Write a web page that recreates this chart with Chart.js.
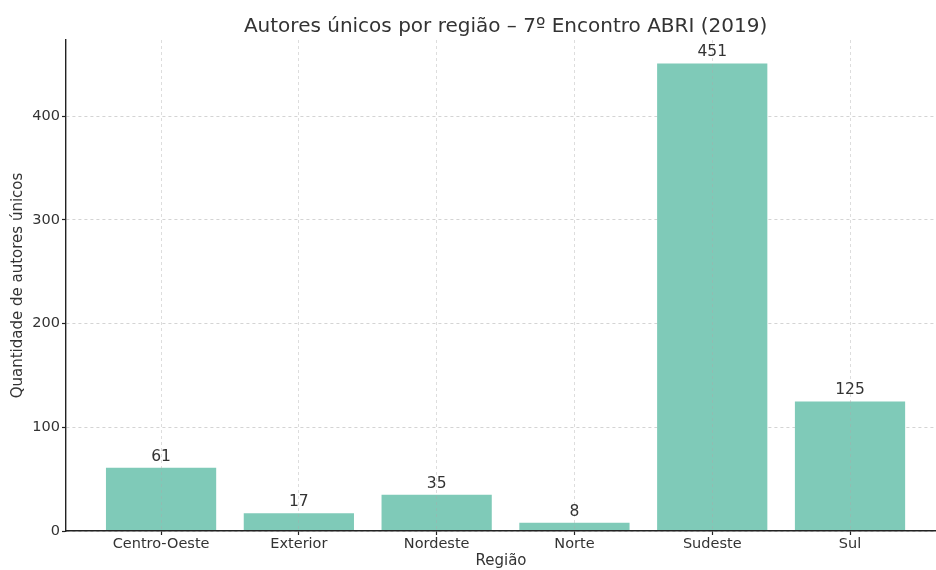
<!DOCTYPE html>
<html>
<head>
<meta charset="utf-8">
<script src="https://cdn.jsdelivr.net/npm/chart.js@4.4.1/dist/chart.umd.min.js"></script>
<style>
  html, body { margin: 0; padding: 0; background: #fff; overflow: hidden; }
  #wrap { width: 936px; height: 570px; }
</style>
</head>
<body>
<div id="wrap"><canvas id="regiaoChart" width="936" height="570"></canvas></div>
<script>
const regioes = ['Centro-Oeste', 'Exterior', 'Nordeste', 'Norte', 'Sudeste', 'Sul'];
const autores = [61, 17, 35, 8, 451, 125];
const yTicks = [0, 100, 200, 300, 400];
const titulo = 'Autores únicos por região – 7º Encontro ABRI (2019)';

const corTexto = '#333333';
const fonte = 'DejaVu Sans';

// rotulos de valor acima de cada barra
const valorPlugin = {
    id: 'valorPlugin',
    afterDraw(chart) {
        const ctx = chart.ctx;
        const meta = chart.getDatasetMeta(0);
        ctx.save();
        ctx.font = '15.5px "' + fonte + '"';
        ctx.fillStyle = corTexto;
        ctx.textAlign = 'center';
        ctx.textBaseline = 'middle';
        meta.data.forEach(function (bar, i) {
            ctx.fillText(String(autores[i]), bar.x, bar.y - 11);
        });
        ctx.restore();
    }
};

// titulo centrado sobre o eixo completo (como no matplotlib)
const tituloPlugin = {
    id: 'tituloPlugin',
    afterDraw(chart) {
        const ctx = chart.ctx;
        const x = chart.scales.x;
        const centro = (x.getPixelForValue(-0.69) + x.getPixelForValue(5.69)) / 2;
        ctx.save();
        ctx.font = '20px "' + fonte + '"';
        ctx.fillStyle = corTexto;
        ctx.textAlign = 'center';
        ctx.textBaseline = 'alphabetic';
        ctx.fillText(titulo, centro, 32);
        ctx.restore();
    }
};

function grade(z, cor) {
    return {
        color: cor,
        lineWidth: 1,
        z: z,
        offset: false,
        drawTicks: true,
        tickLength: 4,
        tickColor: '#222222',
        tickWidth: 1.2
    };
}

const ctx = document.getElementById('regiaoChart').getContext('2d');
const regiaoChart = new Chart(ctx, {
    type: 'bar',
    data: {
        datasets: [{
            label: 'Autores únicos',
            data: autores.map(function (v, i) { return { x: i, y: v }; }),
            backgroundColor: '#7fcab8',
            borderWidth: 0,
            categoryPercentage: 0.8,
            barPercentage: 1.0
        }]
    },
    options: {
        responsive: false,
        animation: false,
        layout: { padding: { top: 40, right: 0, left: 0, bottom: 0 } },
        plugins: {
            legend: { display: false },
            tooltip: { enabled: false },
            title: { display: false }
        },
        scales: {
            x: {
                type: 'linear',
                offset: false,
                min: -0.69,
                max: 5.624,
                afterFit: function (scale) { scale.height = 39; },
                afterBuildTicks: function (scale) {
                    scale.ticks = regioes.map(function (r, i) { return { value: i }; });
                },
                ticks: {
                    autoSkip: false,
                    maxRotation: 0,
                    padding: 1,
                    color: corTexto,
                    font: { family: fonte, size: 14.5 },
                    callback: function (value) { return regioes[value]; }
                },
                grid: grade(1, 'rgba(170,170,170,0.4)'),
                border: { display: true, color: '#222222', width: 1.4, dash: [3, 3], z: 1 },
                title: {
                    display: true,
                    text: 'Região',
                    color: corTexto,
                    font: { family: fonte, size: 15 },
                    padding: { top: 0, bottom: 0 }
                }
            },
            y: {
                min: 0,
                max: 473.55,
                afterFit: function (scale) { scale.width = 66; },
                afterBuildTicks: function (scale) {
                    scale.ticks = yTicks.map(function (v) { return { value: v }; });
                },
                ticks: {
                    padding: 2,
                    color: corTexto,
                    font: { family: fonte, size: 14.5 }
                },
                grid: grade(0, 'rgba(170,170,170,0.5)'),
                border: { display: true, color: '#222222', width: 1.4, dash: [3, 3], z: 0 },
                title: {
                    display: true,
                    text: 'Quantidade de autores únicos',
                    color: corTexto,
                    font: { family: fonte, size: 15 },
                    padding: { top: 9, bottom: 0 }
                }
            }
        }
    },
    plugins: [valorPlugin, tituloPlugin]
});
</script>
</body>
</html>
